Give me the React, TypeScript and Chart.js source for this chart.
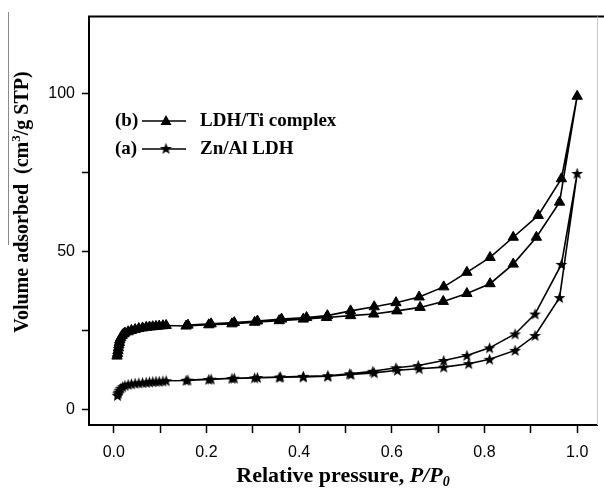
import React, { useEffect, useRef } from "react";
import { Chart, registerables } from "chart.js";

Chart.register(...registerables);

// LDH/Ti complex (b): adsorption branch then desorption branch
const tiAdsX = [0.007, 0.008, 0.009, 0.010, 0.011, 0.012, 0.013, 0.015, 0.018, 0.021, 0.024, 0.031, 0.038, 0.046, 0.054, 0.062, 0.070, 0.077, 0.084, 0.091, 0.098, 0.106, 0.113, 0.156, 0.205, 0.255, 0.304, 0.357, 0.409, 0.459, 0.511, 0.561, 0.611, 0.661, 0.711, 0.762, 0.812, 0.862, 0.912, 0.962, 1.0];
const tiAdsY = [16.8, 17.6, 18.5, 19.4, 20.3, 21.1, 21.9, 22.6, 23.3, 23.8, 24.1, 24.5, 24.9, 25.2, 25.5, 25.7, 25.9, 26.0, 26.1, 26.2, 26.3, 26.4, 26.5, 26.3, 26.7, 27.0, 27.5, 28.0, 28.5, 29.0, 29.6, 30.1, 31.1, 32.2, 34.1, 36.6, 39.7, 45.9, 54.4, 65.5, 99.0];
const tiDesX = [0.966, 0.916, 0.862, 0.812, 0.762, 0.712, 0.659, 0.609, 0.562, 0.511, 0.461, 0.416, 0.362, 0.31, 0.26, 0.21, 0.16];
const tiDesY = [72.9, 61.3, 54.4, 48.0, 43.3, 38.7, 35.5, 33.7, 32.4, 31.1, 29.6, 29.0, 28.5, 27.9, 27.4, 27.0, 26.6];

// Zn/Al LDH (a)
const znAdsX = [0.008, 0.009, 0.010, 0.012, 0.015, 0.019, 0.024, 0.031, 0.038, 0.046, 0.054, 0.062, 0.070, 0.077, 0.084, 0.091, 0.098, 0.106, 0.113, 0.156, 0.205, 0.255, 0.304, 0.357, 0.409, 0.462, 0.512, 0.562, 0.612, 0.659, 0.712, 0.766, 0.811, 0.866, 0.909, 0.962, 1.0];
const znAdsY = [4.3, 4.9, 5.4, 6.0, 6.6, 7.1, 7.5, 7.8, 8.0, 8.2, 8.3, 8.4, 8.5, 8.6, 8.7, 8.8, 8.8, 8.9, 9.0, 9.1, 9.4, 9.7, 9.9, 10.1, 10.2, 10.4, 11.0, 11.5, 12.3, 12.8, 13.3, 14.4, 15.8, 18.6, 23.3, 35.3, 74.6];
const znDesX = [0.966, 0.909, 0.866, 0.811, 0.762, 0.712, 0.657, 0.609, 0.559, 0.509, 0.462, 0.409, 0.36, 0.31, 0.26, 0.21, 0.16];
const znDesY = [45.8, 30.1, 23.8, 19.4, 17.0, 15.4, 13.8, 13.1, 12.0, 11.2, 10.6, 10.4, 10.2, 10.0, 9.8, 9.5, 9.2];

const seriesLabels = ["LDH/Ti complex", "Zn/Al LDH"];
const seriesTags = ["(b)", "(a)"];
const xTitle = ["Relative pressure, ", "P/P", "0"];
const yTitle = ["Volume adsorbed  (cm", "3", "/g STP)"];

function pts(xs: number[], ys: number[]) {
  return xs.map((x, i) => ({ x, y: ys[i] }));
}

function makeStar(): HTMLCanvasElement {
  const c = document.createElement("canvas");
  c.width = 13;
  c.height = 13;
  const g = c.getContext("2d")!;
  g.beginPath();
  for (let i = 0; i < 10; i++) {
    const r = i % 2 ? 2.6 : 6.2;
    const a = -Math.PI / 2 + (i * Math.PI) / 5;
    const px = 6.5 + r * Math.cos(a);
    const py = 7 + r * Math.sin(a);
    if (i === 0) g.moveTo(px, py);
    else g.lineTo(px, py);
  }
  g.closePath();
  g.fillStyle = "#000";
  g.fill();
  return c;
}

const SERIF = '"Liberation Serif", "Times New Roman", serif';
const SANS = '"Liberation Sans", Arial, sans-serif';

export default function App() {
  const ref = useRef<HTMLCanvasElement>(null);
  useEffect(() => {
    document.body.style.margin = "0";
    const star = makeStar();
    const drawTri = (ctx: CanvasRenderingContext2D, x: number, y: number) => {
      ctx.beginPath();
      ctx.moveTo(x, y - 6);
      ctx.lineTo(x + 5.5, y + 4);
      ctx.lineTo(x - 5.5, y + 4);
      ctx.closePath();
      ctx.fill();
    };
    const deco = {
      id: "deco",
      afterDraw(chart: any) {
        const ctx: CanvasRenderingContext2D = chart.ctx;
        const a = chart.chartArea;
        ctx.save();
        // frame
        ctx.strokeStyle = "#000";
        ctx.lineWidth = 2;
        ctx.beginPath();
        ctx.moveTo(a.left - 1, a.top);
        ctx.lineTo(604, a.top);
        ctx.stroke();
        ctx.strokeStyle = "#c8c8c8";
        ctx.lineWidth = 1;
        ctx.beginPath();
        ctx.moveTo(a.right + 0.5, a.top);
        ctx.lineTo(a.right + 0.5, a.bottom);
        ctx.stroke();
        // stray scan line
        ctx.strokeStyle = "#8a8a8a";
        ctx.beginPath();
        ctx.moveTo(8.5, 12);
        ctx.lineTo(8.5, 245);
        ctx.stroke();

        // legend
        ctx.fillStyle = "#000";
        ctx.strokeStyle = "#000";
        ctx.font = `bold 19px ${SERIF}`;
        ctx.textBaseline = "alphabetic";
        ctx.textAlign = "left";
        const rows = [126, 154];
        rows.forEach((by, i) => {
          ctx.fillText(seriesTags[i], 115, by);
          ctx.fillText(seriesLabels[i], 200, by);
          const ly = by - 5;
          ctx.lineWidth = 1.5;
          ctx.beginPath();
          ctx.moveTo(142, ly);
          ctx.lineTo(186, ly);
          ctx.stroke();
          if (i === 0) drawTri(ctx, 166, ly);
          else ctx.drawImage(star, 166 - 6.5, ly - 7);
        });

        // x title
        const f1 = `bold 22px ${SERIF}`;
        const f2 = `italic bold 22px ${SERIF}`;
        const f3 = `italic bold 14px ${SERIF}`;
        ctx.font = f1;
        const w1 = ctx.measureText(xTitle[0]).width;
        ctx.font = f2;
        const w2 = ctx.measureText(xTitle[1]).width;
        ctx.font = f3;
        const w3 = ctx.measureText(xTitle[2]).width;
        let sx = (a.left + a.right) / 2 - (w1 + w2 + w3) / 2;
        const xb = 482;
        ctx.font = f1;
        ctx.fillText(xTitle[0], sx, xb);
        sx += w1;
        ctx.font = f2;
        ctx.fillText(xTitle[1], sx, xb);
        sx += w2;
        ctx.font = f3;
        ctx.fillText(xTitle[2], sx, xb + 4);

        // y title
        const g1 = `bold 20px ${SERIF}`;
        const g2 = `bold 13px ${SERIF}`;
        ctx.font = g1;
        const v1 = ctx.measureText(yTitle[0]).width;
        const v3 = ctx.measureText(yTitle[2]).width;
        ctx.font = g2;
        const v2 = ctx.measureText(yTitle[1]).width;
        ctx.translate(28, 202);
        ctx.rotate(-Math.PI / 2);
        let sy = -(v1 + v2 + v3) / 2;
        ctx.font = g1;
        ctx.fillText(yTitle[0], sy, 0);
        sy += v1;
        ctx.font = g2;
        ctx.fillText(yTitle[1], sy, -8);
        sy += v2;
        ctx.font = g1;
        ctx.fillText(yTitle[2], sy, 0);
        ctx.restore();
      },
    };

    const chart = new Chart(ref.current!, {
      type: "line",
      data: {
        datasets: [
          {
            label: seriesLabels[0],
            data: [...pts(tiAdsX, tiAdsY), ...pts(tiDesX, tiDesY)],
            borderColor: "#000",
            backgroundColor: "#000",
            borderWidth: 1.6,
            pointStyle: "triangle",
            pointRadius: 6,
            pointBorderWidth: 1,
            tension: 0,
            fill: false,
          },
          {
            label: seriesLabels[1],
            data: [...pts(znAdsX, znAdsY), ...pts(znDesX, znDesY)],
            borderColor: "#000",
            backgroundColor: "#000",
            borderWidth: 1.6,
            pointStyle: star as any,
            pointRadius: 5,
            tension: 0,
            fill: false,
          },
        ],
      },
      options: {
        animation: false,
        responsive: false,
        layout: { padding: { top: 14, right: 3, left: 0, bottom: 0 } },
        plugins: { legend: { display: false }, tooltip: { enabled: false }, title: { display: false } },
        scales: {
          x: {
            type: "linear",
            min: -0.0535,
            max: 1.0428,
            afterFit: (s: any) => {
              s.height = 67;
            },
            border: { display: true, color: "#000", width: 2 },
            grid: { drawOnChartArea: false, drawTicks: true, tickLength: 8, tickColor: "#000", tickWidth: 1.5 },
            ticks: {
              stepSize: 0.1,
              includeBounds: false,
              autoSkip: false,
              maxRotation: 0,
              padding: 10,
              color: "#000",
              font: { family: SANS, size: 16 },
              callback: (v: any) => {
                const n = Math.round(Number(v) * 10);
                return n % 2 === 0 ? (n / 10).toFixed(1) : "";
              },
            },
          },
          y: {
            type: "linear",
            min: -5,
            max: 124.2,
            afterFit: (s: any) => {
              s.width = 89;
            },
            border: { display: true, color: "#000", width: 2 },
            grid: { drawOnChartArea: false, drawTicks: true, tickLength: 7, tickColor: "#000", tickWidth: 1.5 },
            ticks: {
              stepSize: 25,
              includeBounds: false,
              autoSkip: false,
              padding: 7,
              color: "#000",
              font: { family: SANS, size: 16 },
              callback: (v: any) => {
                const n = Math.round(Number(v));
                return n % 50 === 0 ? String(n) : "";
              },
            },
          },
        },
      },
      plugins: [deco],
    });
    return () => chart.destroy();
  }, []);
  return <canvas ref={ref} width={604} height={492} style={{ display: "block" }} />;
}
